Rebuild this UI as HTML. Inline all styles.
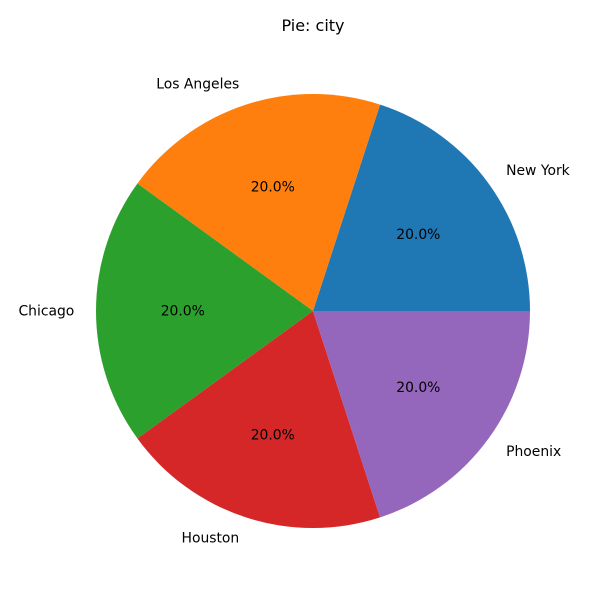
<!DOCTYPE html>
<html><head><meta charset="utf-8"><style>
body{margin:0;background:#fff}
svg{display:block;font-family:"DejaVu Sans","Liberation Sans",sans-serif}
</style></head><body>
<svg id="chart" width="600" height="600" viewBox="0 0 600 600">
<rect width="600" height="600" fill="#fff"/>
<text x="313" y="31" text-anchor="middle" font-size="16" fill="#000">Pie: city</text>
<g id="slices"></g>
</svg>
<script>
const categories = ["New York","Los Angeles","Chicago","Houston","Phoenix"];
const values = [1,1,1,1,1];
const colors = ["#1f77b4","#ff7f0e","#2ca02c","#d62728","#9467bd"];
const cx = 313, cy = 311, r = 217;
const ns = "http://www.w3.org/2000/svg";
const g = document.getElementById("slices");
const total = values.reduce((a,b)=>a+b,0);
let start = 0;
values.forEach((v,i)=>{
  const sweep = v/total*2*Math.PI;
  const a0 = start, a1 = start+sweep;
  const x0 = cx + r*Math.cos(a0), y0 = cy - r*Math.sin(a0);
  const x1 = cx + r*Math.cos(a1), y1 = cy - r*Math.sin(a1);
  const large = sweep > Math.PI ? 1 : 0;
  const p = document.createElementNS(ns,"path");
  p.setAttribute("d", `M${cx},${cy} L${x0},${y0} A${r},${r} 0 ${large} 0 ${x1},${y1} Z`);
  p.setAttribute("fill", colors[i]);
  
  
  g.appendChild(p);
  const mid = (a0+a1)/2;
  const lx = cx + 1.1*r*Math.cos(mid), ly = cy - 1.1*r*Math.sin(mid);
  const t = document.createElementNS(ns,"text");
  t.setAttribute("x", lx); t.setAttribute("y", ly+4.5);
  const c = Math.cos(mid);
  t.setAttribute("text-anchor", Math.abs(c) < 1e-6 ? "middle" : (c > 0 ? "start" : "end"));
  t.setAttribute("font-size","13.9");
  t.textContent = categories[i];
  
  
  g.appendChild(t);
  const px = cx + 0.6*r*Math.cos(mid), py = cy - 0.6*r*Math.sin(mid);
  const pt = document.createElementNS(ns,"text");
  pt.setAttribute("x", px); pt.setAttribute("y", py+4.5);
  pt.setAttribute("text-anchor","middle");
  pt.setAttribute("font-size","13.9");
  pt.textContent = (v/total*100).toFixed(1) + "%";
  
  
  g.appendChild(pt);
  start = a1;
});
</script>
</body></html>
